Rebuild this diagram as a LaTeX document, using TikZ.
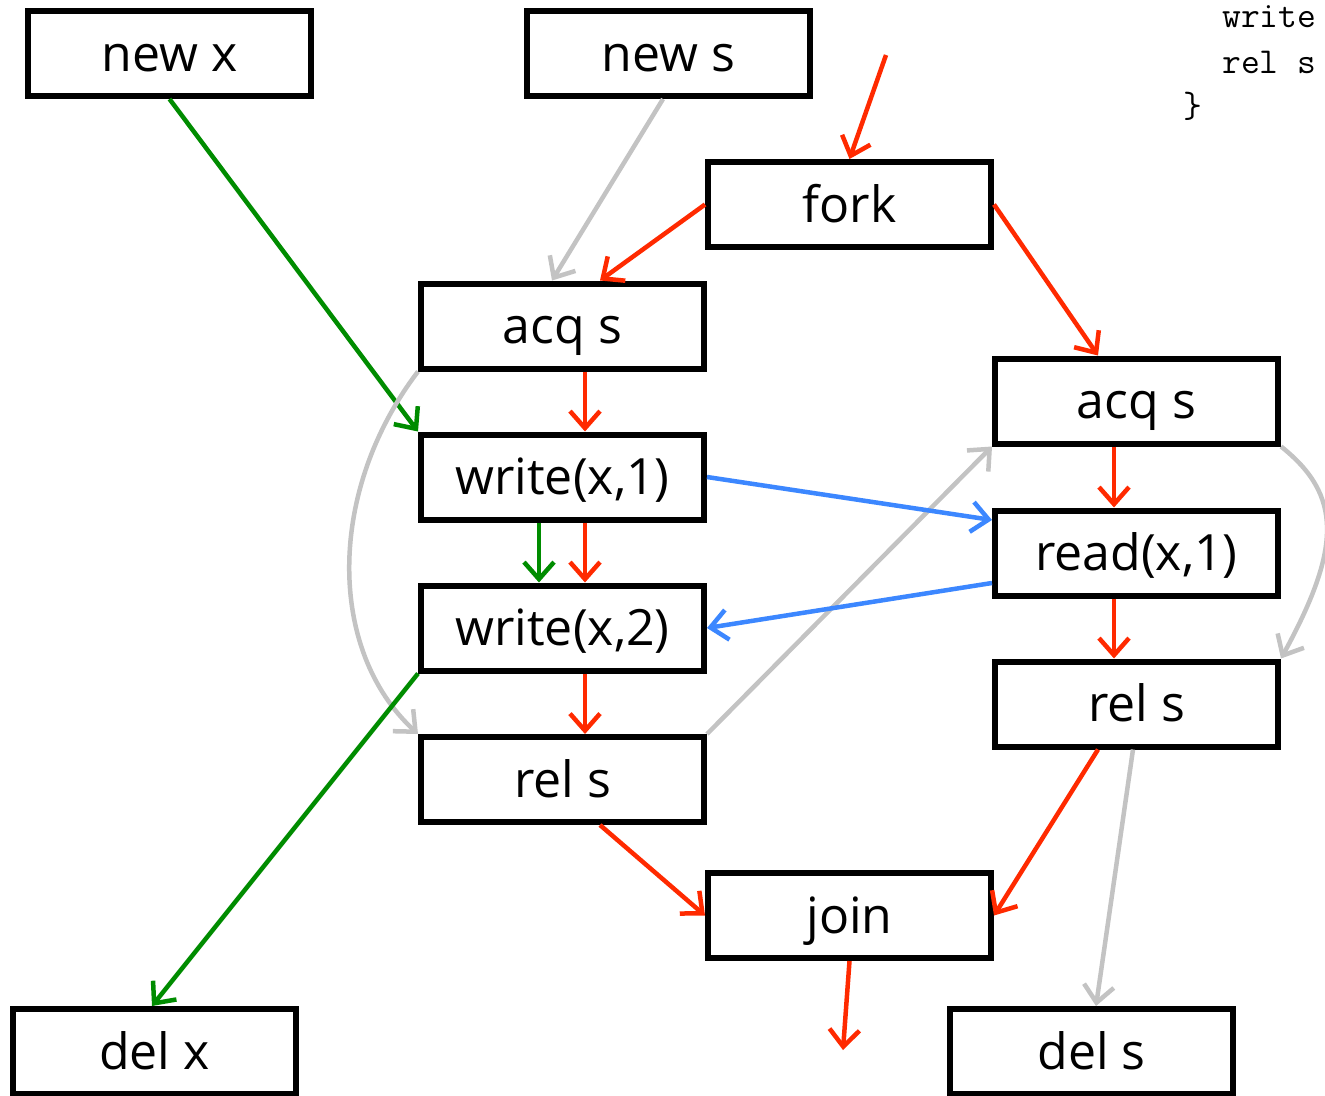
\documentclass[tikz,border=0pt]{standalone}
\usepackage{fontspec}
\setmainfont{Open Sans}
\usetikzlibrary{arrows.meta}
\definecolor{cred}{RGB}{255,42,0}
\definecolor{cgreen}{RGB}{0,140,0}
\definecolor{cblue}{RGB}{60,135,255}
\definecolor{cgray}{RGB}{195,195,195}
\begin{document}
\begin{tikzpicture}[x=1pt,y=-1pt,
  box/.style={draw=black,line width=6pt,fill=white,minimum width=283pt,minimum height=85pt,inner sep=0pt,text height=35pt,text depth=0pt,font=\fontsize{50}{60}\selectfont},
  conn/.style={line width=4.5pt,-{Straight Barb[length=17pt,width=30pt,line width=4.5pt]}},
  rd/.style={conn,draw=cred},
  gn/.style={conn,draw=cgreen},
  bl/.style={conn,draw=cblue},
  gy/.style={conn,draw=cgray},
  code/.style={anchor=base west,inner sep=0pt,font=\ttfamily\fontsize{36.5}{44}\selectfont}]
\useasboundingbox[fill=white] (0,0) rectangle (1325,1095);
% code fragment
\node[code] (c1) at (1222,27) {write};
\node[code] (c2) at (1222,73) {rel s};
\node[code] (c3) at (1183,117) {\}};
% nodes
\node[box] (newx) at (169.5,53.5) {new x};
\node[box] (news) at (668.5,53.5) {new s};
\node[box] (fork) at (849.5,204.5) {fork};
\node[box] (acqL) at (562.5,326) {acq s};
\node[box] (w1) at (562.5,477) {write(x,1)};
\node[box] (w2) at (562.5,628) {write(x,2)};
\node[box] (relL) at (562.5,779.5) {rel s};
\node[box] (acqR) at (1136.5,401) {acq s};
\node[box] (rdx) at (1136.5,553) {read(x,1)};
\node[box] (relR) at (1136.5,704) {rel s};
\node[box] (join) at (849.5,915.5) {join};
\node[box] (delx) at (154.5,1051.5) {del x};
\node[box] (dels) at (1091.5,1051.5) {del s};
\coordinate (forkin) at (886,55);
\coordinate (joinout) at (843,1050);
% connectors
\draw[rd] (forkin) -- (fork.north);
\draw[rd] (fork.west) -- ([xshift=37.5pt]acqL.north);
\draw[rd] (fork.east) -- ([xshift=-38.5pt]acqR.north);
\draw[gy] ([xshift=-5.5pt]news.south) -- ([xshift=-10.5pt]acqL.north);
\draw[gn] (newx.south) -- (w1.north west);
\draw[rd] ([xshift=22.5pt]acqL.south) -- ([xshift=22.5pt]w1.north);
\draw[rd] ([xshift=22.5pt]w1.south) -- ([xshift=22.5pt]w2.north);
\draw[gn] ([xshift=-23.5pt]w1.south) -- ([xshift=-23.5pt]w2.north);
\draw[rd] ([xshift=22.5pt]w2.south) -- ([xshift=22.5pt]relL.north);
\draw[gy] (acqL.south west) .. controls (327,491) and (327,650) .. (relL.north west);
\draw[gn] (w2.south west) -- ([xshift=-2.5pt]delx.north);
\draw[gy] (relL.north east) -- (acqR.south west);
\draw[bl] (w1.east) -- ([yshift=33pt]rdx.west);
\draw[bl] ([yshift=-30pt]rdx.west) -- (w2.east);
\draw[rd] ([xshift=-22.5pt]acqR.south) -- ([xshift=-22.5pt]rdx.north);
\draw[rd] ([xshift=-22.5pt]rdx.south) -- ([xshift=-22.5pt]relR.north);
\draw[gy] (acqR.south east) .. controls (1342,495) and (1342,547) .. (relR.north east);
\draw[rd] ([xshift=37.5pt]relL.south) -- (join.west);
\draw[rd] ([xshift=-38.5pt]relR.south) -- (join.east);
\draw[gy] ([xshift=-3.5pt]relR.south) -- ([xshift=4.5pt]dels.north);
\draw[rd] (join.south) -- (joinout);
\end{tikzpicture}
\end{document}
